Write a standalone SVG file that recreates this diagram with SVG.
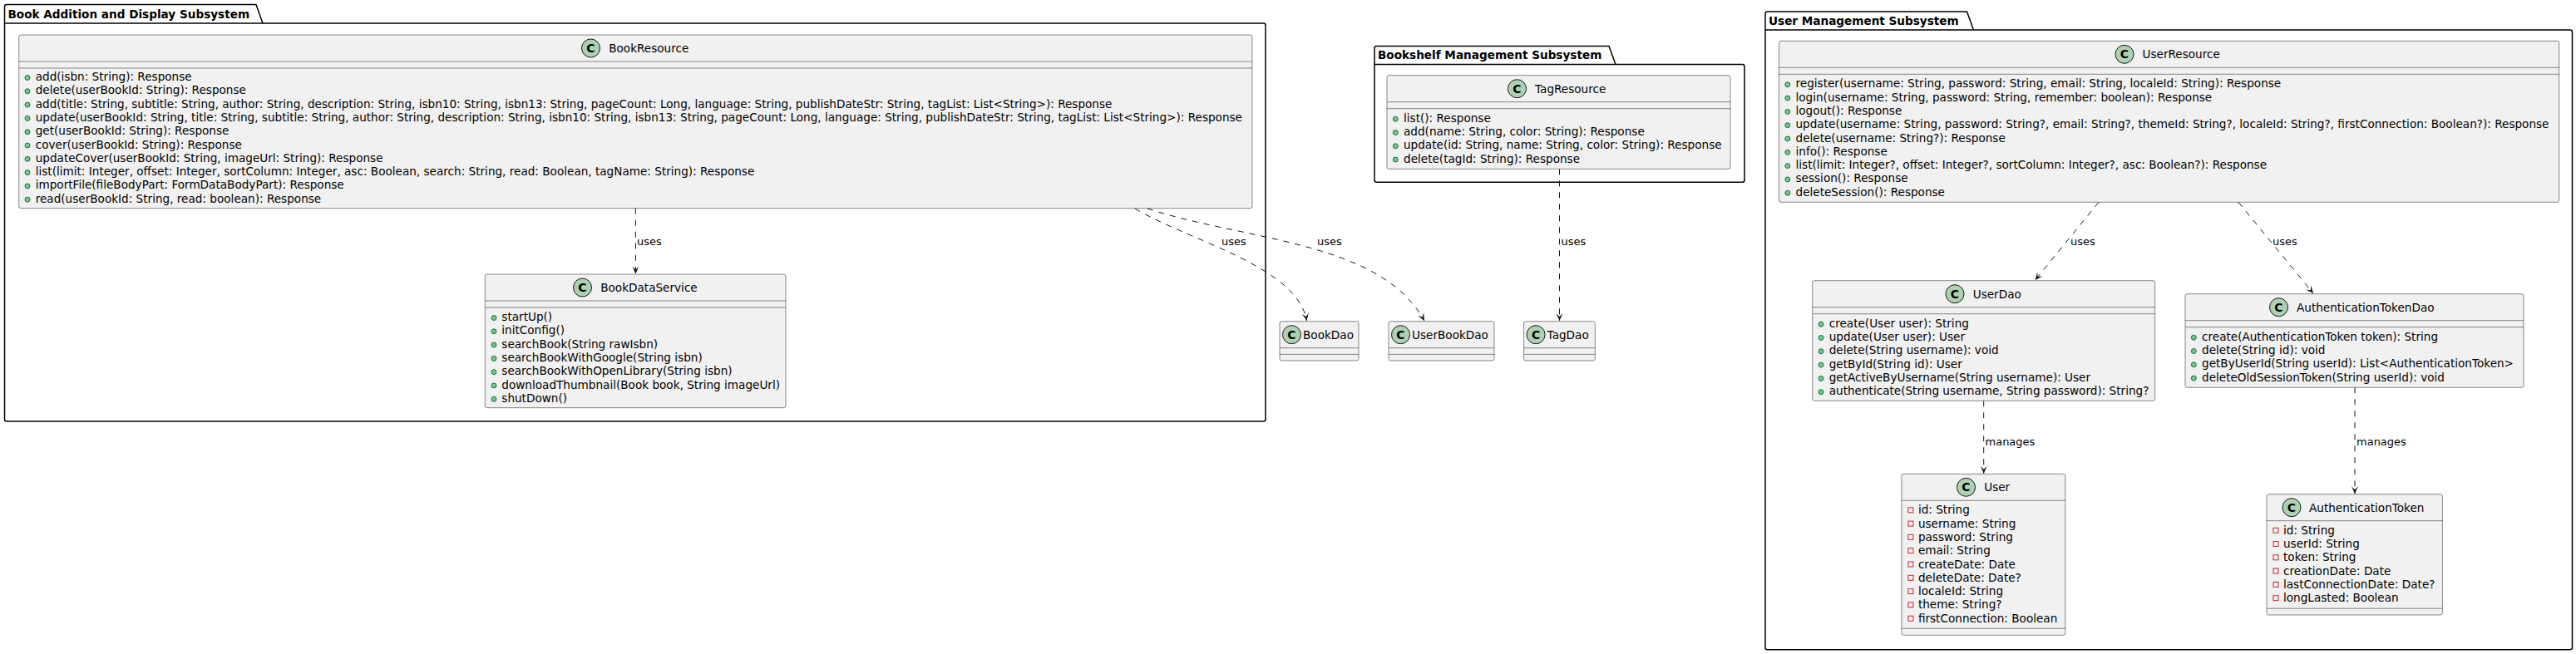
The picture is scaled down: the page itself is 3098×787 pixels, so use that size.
<svg xmlns="http://www.w3.org/2000/svg" width="3098" height="787" viewBox="0 0 3098 787">
<style>
text{font-family:"DejaVu Sans","Liberation Sans",sans-serif;fill:#000000}
.pkg{fill:none;stroke:#000000;stroke-width:1.5}
.pt{font-size:13.6px;font-weight:bold}
.cls{fill:#F1F1F1;stroke:#181818;stroke-width:0.5}
.sep{stroke:#181818;stroke-width:0.5}
.ci{fill:#ADD1B2;stroke:#181818;stroke-width:1}
.cc{font-size:14px;font-weight:bold;text-anchor:middle}
.nm{font-size:13.6px}
.mb{font-size:13.6px}
.pub{fill:#84BE84;stroke:#038048;stroke-width:1}
.prv{fill:none;stroke:#C82930;stroke-width:1}
.dep{fill:none;stroke:#181818;stroke-width:1;stroke-dasharray:7,7;marker-end:url(#ah)}
.lbl{font-size:13px}
</style>
<defs>
<marker id="ah" viewBox="-10 -5 12 10" refX="0" refY="0" markerWidth="12" markerHeight="10" orient="auto" markerUnits="userSpaceOnUse" overflow="visible">
<path d="M0,0 L-9,-4 L-5,0 L-9,4 Z" fill="#181818"/>
</marker>
</defs>
<rect x="0" y="0" width="3098" height="787" fill="#FFFFFF"/>

<g id="pkg-book">
<path class="pkg" d="M5.5,28 L5.5,8 Q5.5,5.5 8,5.5 L308,5.5 L316,28 L1519.5,28 Q1522,28 1522,30.5 L1522,504.5 Q1522,507 1519.5,507 L8,507 Q5.5,507 5.5,504.5 Z M5.5,28 L316,28"/>
<text class="pt" x="9.5" y="21.5">Book Addition and Display Subsystem</text>
</g>
<g id="pkg-bookshelf">
<path class="pkg" d="M1653,77.5 L1653,58 Q1653,55.5 1655.5,55.5 L1935,55.5 L1943,77.5 L2095.5,77.5 Q2098,77.5 2098,80 L2098,216.8 Q2098,219.3 2095.5,219.3 L1655.5,219.3 Q1653,219.3 1653,216.8 Z M1653,77.5 L1943,77.5"/>
<text class="pt" x="1657" y="71">Bookshelf Management Subsystem</text>
</g>
<g id="pkg-user">
<path class="pkg" d="M2123,36 L2123,16.5 Q2123,14 2125.5,14 L2365.5,14 L2373.5,36 L3091,36 Q3093.5,36 3093.5,38.5 L3093.5,779.2 Q3093.5,781.7 3091,781.7 L2125.5,781.7 Q2123,781.7 2123,779.2 Z M2123,36 L2373.5,36"/>
<text class="pt" x="2127" y="29.5">User Management Subsystem</text>
</g>

<g id="BookResource">
<rect class="cls" x="22.7" y="42" width="1483.3" height="208.7" rx="2.5"/>
<circle class="ci" cx="710.5" cy="58" r="11"/><text class="cc" x="710.5" y="63">C</text>
<text class="nm" x="732.2" y="63">BookResource</text>
<line class="sep" x1="22.7" y1="74" x2="1506" y2="74"/>
<line class="sep" x1="22.7" y1="82" x2="1506" y2="82"/>
<circle class="pub" cx="33" cy="93.5" r="3"/><text class="mb" x="42.7" y="97">add(isbn: String): Response</text>
<circle class="pub" cx="33" cy="109.8" r="3"/><text class="mb" x="42.7" y="113.3">delete(userBookId: String): Response</text>
<circle class="pub" cx="33" cy="126.1" r="3"/><text class="mb" x="42.7" y="129.6">add(title: String, subtitle: String, author: String, description: String, isbn10: String, isbn13: String, pageCount: Long, language: String, publishDateStr: String, tagList: List&lt;String&gt;): Response</text>
<circle class="pub" cx="33" cy="142.4" r="3"/><text class="mb" x="42.7" y="145.9">update(userBookId: String, title: String, subtitle: String, author: String, description: String, isbn10: String, isbn13: String, pageCount: Long, language: String, publishDateStr: String, tagList: List&lt;String&gt;): Response</text>
<circle class="pub" cx="33" cy="158.7" r="3"/><text class="mb" x="42.7" y="162.2">get(userBookId: String): Response</text>
<circle class="pub" cx="33" cy="175" r="3"/><text class="mb" x="42.7" y="178.5">cover(userBookId: String): Response</text>
<circle class="pub" cx="33" cy="191.3" r="3"/><text class="mb" x="42.7" y="194.8">updateCover(userBookId: String, imageUrl: String): Response</text>
<circle class="pub" cx="33" cy="207.6" r="3"/><text class="mb" x="42.7" y="211.1">list(limit: Integer, offset: Integer, sortColumn: Integer, asc: Boolean, search: String, read: Boolean, tagName: String): Response</text>
<circle class="pub" cx="33" cy="223.9" r="3"/><text class="mb" x="42.7" y="227.4">importFile(fileBodyPart: FormDataBodyPart): Response</text>
<circle class="pub" cx="33" cy="240.2" r="3"/><text class="mb" x="42.7" y="243.7">read(userBookId: String, read: boolean): Response</text>
</g>

<g id="BookDataService">
<rect class="cls" x="583.3" y="330" width="361.7" height="160.7" rx="2.5"/>
<circle class="ci" cx="700.5" cy="346" r="11"/><text class="cc" x="700.5" y="351">C</text>
<text class="nm" x="722.2" y="351">BookDataService</text>
<line class="sep" x1="583.3" y1="362" x2="945" y2="362"/>
<line class="sep" x1="583.3" y1="370" x2="945" y2="370"/>
<circle class="pub" cx="594" cy="382.5" r="3"/><text class="mb" x="603.3" y="386">startUp()</text>
<circle class="pub" cx="594" cy="398.8" r="3"/><text class="mb" x="603.3" y="402.3">initConfig()</text>
<circle class="pub" cx="594" cy="415.1" r="3"/><text class="mb" x="603.3" y="418.6">searchBook(String rawIsbn)</text>
<circle class="pub" cx="594" cy="431.4" r="3"/><text class="mb" x="603.3" y="434.9">searchBookWithGoogle(String isbn)</text>
<circle class="pub" cx="594" cy="447.7" r="3"/><text class="mb" x="603.3" y="451.2">searchBookWithOpenLibrary(String isbn)</text>
<circle class="pub" cx="594" cy="464" r="3"/><text class="mb" x="603.3" y="467.5">downloadThumbnail(Book book, String imageUrl)</text>
<circle class="pub" cx="594" cy="480.3" r="3"/><text class="mb" x="603.3" y="483.8">shutDown()</text>
</g>

<g id="TagResource">
<rect class="cls" x="1668" y="90.7" width="413" height="112.6" rx="2.5"/>
<circle class="ci" cx="1824.5" cy="106.7" r="11"/><text class="cc" x="1824.5" y="111.7">C</text>
<text class="nm" x="1846" y="111.7">TagResource</text>
<line class="sep" x1="1668" y1="122.7" x2="2081" y2="122.7"/>
<line class="sep" x1="1668" y1="130.7" x2="2081" y2="130.7"/>
<circle class="pub" cx="1678.3" cy="143.2" r="3"/><text class="mb" x="1688" y="146.7">list(): Response</text>
<circle class="pub" cx="1678.3" cy="159.5" r="3"/><text class="mb" x="1688" y="163">add(name: String, color: String): Response</text>
<circle class="pub" cx="1678.3" cy="175.8" r="3"/><text class="mb" x="1688" y="179.3">update(id: String, name: String, color: String): Response</text>
<circle class="pub" cx="1678.3" cy="192.1" r="3"/><text class="mb" x="1688" y="195.6">delete(tagId: String): Response</text>
</g>

<g id="BookDao">
<rect class="cls" x="1539" y="386.7" width="95" height="47.3" rx="2.5"/>
<circle class="ci" cx="1553.5" cy="402.7" r="11"/><text class="cc" x="1553.5" y="407.7">C</text>
<text class="nm" x="1567" y="407.7">BookDao</text>
<line class="sep" x1="1539" y1="418.7" x2="1634" y2="418.7"/>
<line class="sep" x1="1539" y1="426.4" x2="1634" y2="426.4"/>
</g>
<g id="UserBookDao">
<rect class="cls" x="1670" y="386.7" width="127" height="47.3" rx="2.5"/>
<circle class="ci" cx="1684.5" cy="402.7" r="11"/><text class="cc" x="1684.5" y="407.7">C</text>
<text class="nm" x="1698" y="407.7">UserBookDao</text>
<line class="sep" x1="1670" y1="418.7" x2="1797" y2="418.7"/>
<line class="sep" x1="1670" y1="426.4" x2="1797" y2="426.4"/>
</g>
<g id="TagDao">
<rect class="cls" x="1832.6" y="386.7" width="85.7" height="47.3" rx="2.5"/>
<circle class="ci" cx="1847.1" cy="402.7" r="11"/><text class="cc" x="1847.1" y="407.7">C</text>
<text class="nm" x="1860.6" y="407.7">TagDao</text>
<line class="sep" x1="1832.6" y1="418.7" x2="1918.3" y2="418.7"/>
<line class="sep" x1="1832.6" y1="426.4" x2="1918.3" y2="426.4"/>
</g>

<g id="UserResource">
<rect class="cls" x="2139.5" y="49.3" width="938.2" height="194" rx="2.5"/>
<circle class="ci" cx="2555" cy="65.3" r="11"/><text class="cc" x="2555" y="70.3">C</text>
<text class="nm" x="2576.5" y="70.3">UserResource</text>
<line class="sep" x1="2139.5" y1="81.3" x2="3077.7" y2="81.3"/>
<line class="sep" x1="2139.5" y1="89.3" x2="3077.7" y2="89.3"/>
<circle class="pub" cx="2149.8" cy="101.8" r="3"/><text class="mb" x="2159.5" y="105.3">register(username: String, password: String, email: String, localeId: String): Response</text>
<circle class="pub" cx="2149.8" cy="118.1" r="3"/><text class="mb" x="2159.5" y="121.6">login(username: String, password: String, remember: boolean): Response</text>
<circle class="pub" cx="2149.8" cy="134.4" r="3"/><text class="mb" x="2159.5" y="137.9">logout(): Response</text>
<circle class="pub" cx="2149.8" cy="150.7" r="3"/><text class="mb" x="2159.5" y="154.2">update(username: String, password: String?, email: String?, themeId: String?, localeId: String?, firstConnection: Boolean?): Response</text>
<circle class="pub" cx="2149.8" cy="167" r="3"/><text class="mb" x="2159.5" y="170.5">delete(username: String?): Response</text>
<circle class="pub" cx="2149.8" cy="183.3" r="3"/><text class="mb" x="2159.5" y="186.8">info(): Response</text>
<circle class="pub" cx="2149.8" cy="199.6" r="3"/><text class="mb" x="2159.5" y="203.1">list(limit: Integer?, offset: Integer?, sortColumn: Integer?, asc: Boolean?): Response</text>
<circle class="pub" cx="2149.8" cy="215.9" r="3"/><text class="mb" x="2159.5" y="219.4">session(): Response</text>
<circle class="pub" cx="2149.8" cy="232.2" r="3"/><text class="mb" x="2159.5" y="235.7">deleteSession(): Response</text>
</g>

<g id="UserDao">
<rect class="cls" x="2179.7" y="337.7" width="412" height="144.6" rx="2.5"/>
<circle class="ci" cx="2351" cy="353.7" r="11"/><text class="cc" x="2351" y="358.7">C</text>
<text class="nm" x="2372.7" y="358.7">UserDao</text>
<line class="sep" x1="2179.7" y1="369.7" x2="2591.7" y2="369.7"/>
<line class="sep" x1="2179.7" y1="377.7" x2="2591.7" y2="377.7"/>
<circle class="pub" cx="2190" cy="390.2" r="3"/><text class="mb" x="2199.7" y="393.7">create(User user): String</text>
<circle class="pub" cx="2190" cy="406.5" r="3"/><text class="mb" x="2199.7" y="410">update(User user): User</text>
<circle class="pub" cx="2190" cy="422.8" r="3"/><text class="mb" x="2199.7" y="426.3">delete(String username): void</text>
<circle class="pub" cx="2190" cy="439.1" r="3"/><text class="mb" x="2199.7" y="442.6">getById(String id): User</text>
<circle class="pub" cx="2190" cy="455.4" r="3"/><text class="mb" x="2199.7" y="458.9">getActiveByUsername(String username): User</text>
<circle class="pub" cx="2190" cy="471.7" r="3"/><text class="mb" x="2199.7" y="475.2">authenticate(String username, String password): String?</text>
</g>

<g id="AuthenticationTokenDao">
<rect class="cls" x="2628" y="353.7" width="407" height="112.6" rx="2.5"/>
<circle class="ci" cx="2740.5" cy="369.7" r="11"/><text class="cc" x="2740.5" y="374.7">C</text>
<text class="nm" x="2762" y="374.7">AuthenticationTokenDao</text>
<line class="sep" x1="2628" y1="385.7" x2="3035" y2="385.7"/>
<line class="sep" x1="2628" y1="393.7" x2="3035" y2="393.7"/>
<circle class="pub" cx="2638.3" cy="406.2" r="3"/><text class="mb" x="2648" y="409.7">create(AuthenticationToken token): String</text>
<circle class="pub" cx="2638.3" cy="422.5" r="3"/><text class="mb" x="2648" y="426">delete(String id): void</text>
<circle class="pub" cx="2638.3" cy="438.8" r="3"/><text class="mb" x="2648" y="442.3">getByUserId(String userId): List&lt;AuthenticationToken&gt;</text>
<circle class="pub" cx="2638.3" cy="455.1" r="3"/><text class="mb" x="2648" y="458.6">deleteOldSessionToken(String userId): void</text>
</g>

<g id="User">
<rect class="cls" x="2286.9" y="570.3" width="197" height="194" rx="2.5"/>
<circle class="ci" cx="2364.5" cy="586.3" r="11"/><text class="cc" x="2364.5" y="591.3">C</text>
<text class="nm" x="2386.2" y="591.3">User</text>
<line class="sep" x1="2286.9" y1="602.3" x2="2483.9" y2="602.3"/>
<rect class="prv" x="2294.9" y="610.8" width="6" height="6"/><text class="mb" x="2306.9" y="618.3">id: String</text>
<rect class="prv" x="2294.9" y="627.1" width="6" height="6"/><text class="mb" x="2306.9" y="634.6">username: String</text>
<rect class="prv" x="2294.9" y="643.4" width="6" height="6"/><text class="mb" x="2306.9" y="650.9">password: String</text>
<rect class="prv" x="2294.9" y="659.7" width="6" height="6"/><text class="mb" x="2306.9" y="667.2">email: String</text>
<rect class="prv" x="2294.9" y="676" width="6" height="6"/><text class="mb" x="2306.9" y="683.5">createDate: Date</text>
<rect class="prv" x="2294.9" y="692.3" width="6" height="6"/><text class="mb" x="2306.9" y="699.8">deleteDate: Date?</text>
<rect class="prv" x="2294.9" y="708.6" width="6" height="6"/><text class="mb" x="2306.9" y="716.1">localeId: String</text>
<rect class="prv" x="2294.9" y="724.9" width="6" height="6"/><text class="mb" x="2306.9" y="732.4">theme: String?</text>
<rect class="prv" x="2294.9" y="741.2" width="6" height="6"/><text class="mb" x="2306.9" y="748.7">firstConnection: Boolean</text>
<line class="sep" x1="2286.9" y1="756.3" x2="2483.9" y2="756.3"/>
</g>

<g id="AuthenticationToken">
<rect class="cls" x="2726" y="594.7" width="211.4" height="145.3" rx="2.5"/>
<circle class="ci" cx="2756" cy="610.7" r="11"/><text class="cc" x="2756" y="615.7">C</text>
<text class="nm" x="2777" y="615.7">AuthenticationToken</text>
<line class="sep" x1="2726" y1="626.7" x2="2937.4" y2="626.7"/>
<rect class="prv" x="2734" y="635.2" width="6" height="6"/><text class="mb" x="2746" y="642.7">id: String</text>
<rect class="prv" x="2734" y="651.5" width="6" height="6"/><text class="mb" x="2746" y="659">userId: String</text>
<rect class="prv" x="2734" y="667.8" width="6" height="6"/><text class="mb" x="2746" y="675.3">token: String</text>
<rect class="prv" x="2734" y="684.1" width="6" height="6"/><text class="mb" x="2746" y="691.6">creationDate: Date</text>
<rect class="prv" x="2734" y="700.4" width="6" height="6"/><text class="mb" x="2746" y="707.9">lastConnectionDate: Date?</text>
<rect class="prv" x="2734" y="716.7" width="6" height="6"/><text class="mb" x="2746" y="724.2">longLasted: Boolean</text>
<line class="sep" x1="2726" y1="732.2" x2="2937.4" y2="732.2"/>
</g>

<g id="connectors">
<path class="dep" d="M764.4,250.7 L764.4,329.5"/>
<text class="lbl" x="766" y="295">uses</text>
<path class="dep" d="M1365,251 C1430,290 1560,320 1571.5,386"/>
<text class="lbl" x="1469" y="295">uses</text>
<path class="dep" d="M1380,251 C1500,290 1660,290 1713,386"/>
<text class="lbl" x="1584" y="295">uses</text>
<path class="dep" d="M1875.5,203.3 L1875.5,386"/>
<text class="lbl" x="1877.5" y="295">uses</text>
<path class="dep" d="M2524,243.3 L2447.6,337"/>
<text class="lbl" x="2490" y="295">uses</text>
<path class="dep" d="M2692,243.3 L2782,353"/>
<text class="lbl" x="2733" y="295">uses</text>
<path class="dep" d="M2385.7,482.3 L2385.7,569.8"/>
<text class="lbl" x="2387.5" y="536">manages</text>
<path class="dep" d="M2832,466.3 L2832,594.2"/>
<text class="lbl" x="2834" y="536">manages</text>
</g>
</svg>
